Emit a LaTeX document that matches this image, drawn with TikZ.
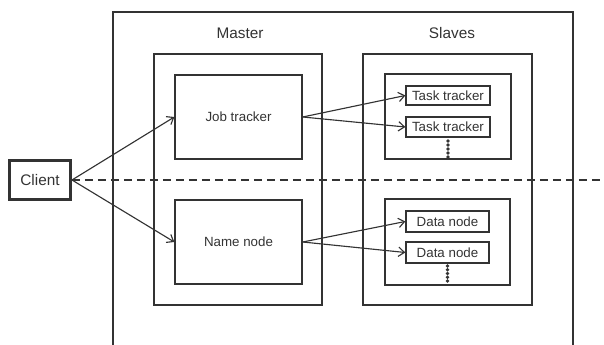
\documentclass[tikz,border=0pt]{standalone}
\usepackage{fontspec}
\setmainfont{Liberation Sans}
\usetikzlibrary{arrows.meta}
\definecolor{ink}{HTML}{333333}
\tikzset{
  box/.style={draw=ink, line width=1pt, rectangle, inner sep=0pt,
    text=ink, font=\fontsize{10}{12}\selectfont},
  title/.style={text=ink, font=\fontsize{11.5}{13}\selectfont, inner sep=0pt},
  link/.style={draw=ink, line width=0.85pt, -{Straight Barb[length=4.5pt,width=7pt,line width=0.85pt]}},
}
\begin{document}
\begin{tikzpicture}[x=0.75pt,y=-0.75pt]
\useasboundingbox (0,0) rectangle (604,345);

% outer frame, open at the bottom
\draw[ink, line width=1pt] (113,345) -- (113,12) -- (573,12) -- (573,345);

% master and slave panels
\node[box, minimum width=126pt, minimum height=188.25pt] (master) at (238,179.5) {};
\node[box, minimum width=126.75pt, minimum height=188.25pt] (slaves) at (447.5,179.5) {};
\node[title] (mastertitle) at (240,33) {Master};
\node[title] (slavestitle) at (452,33) {Slaves};

% master services
\node[box, minimum width=95.25pt, minimum height=63pt] (jt) at (238.5,117) {Job tracker};
\node[box, minimum width=95.25pt, minimum height=63pt] (nn) at (238.5,242) {Name node};

% slave groups
\node[box, minimum width=94.5pt, minimum height=63.75pt] (tgroup) at (448,116.5) {};
\node[box, minimum width=93.75pt, minimum height=64.5pt] (dgroup) at (447.5,242) {};
\node[box, minimum width=63pt, minimum height=14.25pt] (tt1) at (448,95.5) {Task tracker};
\node[box, minimum width=63pt, minimum height=15pt] (tt2) at (448,127) {Task tracker};
\node[box, minimum width=62.25pt, minimum height=15.75pt] (dn1) at (447.5,221.5) {Data node};
\node[box, minimum width=62.25pt, minimum height=15.75pt] (dn2) at (447.5,252.5) {Data node};

% vertical ellipses under the slave entries
\foreach \y in {141,145,149,153,157} \fill[ink] (448,\y) circle (1.8);
\foreach \y in {266,269.75,273.5,277.25,281} \fill[ink] (447.5,\y) circle (1.8);

% client
\node[draw=ink, line width=2.2pt, minimum width=45.75pt, minimum height=29.25pt,
      inner sep=0pt, text=ink, font=\fontsize{11.5}{13}\selectfont] (client) at (40,180) {Client};
\coordinate (dashend) at (604,180);
\draw[ink, line width=1pt, dash pattern=on 6pt off 3.75pt] (client.east) -- (dashend);

% connectors
\draw[link] (client.east) -- (jt.west);
\draw[link] (client.east) -- (nn.west);
\draw[link] (jt.east) -- (tt1.west);
\draw[link] (jt.east) -- (tt2.west);
\draw[link] (nn.east) -- (dn1.west);
\draw[link] (nn.east) -- (dn2.west);
\end{tikzpicture}
\end{document}
